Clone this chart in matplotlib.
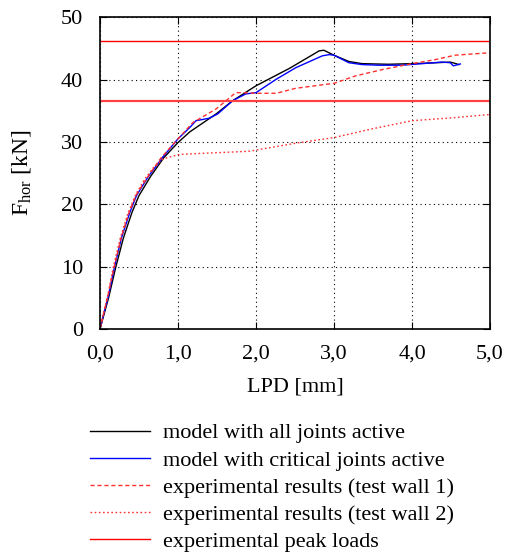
import matplotlib
matplotlib.use("Agg")
import matplotlib.pyplot as plt

plt.rcParams["font.family"] = ["Liberation Serif", "DejaVu Serif"]
plt.rcParams["mathtext.fontset"] = "custom"
plt.rcParams["mathtext.rm"] = "Liberation Serif"
plt.rcParams["mathtext.it"] = "Liberation Serif:italic"

# model with all joints active
x_all = [0.0, 0.11, 0.20, 0.30, 0.41, 0.50, 0.65, 0.82, 1.0, 1.15, 1.49, 1.70,
         2.0, 2.43, 2.81, 2.87, 3.0, 3.19, 3.36, 3.70, 4.13, 4.49, 4.55, 4.60]
y_all = [0.0, 5.0, 9.8, 14.6, 18.7, 21.4, 24.5, 27.5, 29.9, 31.6, 34.5, 36.6,
         39.0, 41.8, 44.6, 44.7, 43.9, 42.9, 42.55, 42.45, 42.6, 42.8, 42.6, 42.4]

# model with critical joints active
x_crit = [0.0, 0.05, 0.106, 0.183, 0.277, 0.383, 0.468, 0.617, 0.80, 0.94, 1.0,
          1.15, 1.23, 1.40, 1.51, 1.70, 1.87, 2.0, 2.26, 2.51, 2.85, 2.94, 3.0,
          3.19, 3.36, 3.57, 3.87, 4.13, 4.38, 4.49, 4.53, 4.62]
y_crit = [0.0, 2.6, 5.2, 9.8, 14.7, 18.7, 21.4, 24.4, 27.5, 29.6, 30.5,
          32.3, 33.4, 33.8, 34.5, 36.6, 37.7, 37.9, 40.05, 41.9, 43.8, 44.0, 43.9,
          42.7, 42.4, 42.3, 42.3, 42.55, 42.8, 42.7, 42.2, 42.5]

# experimental results, test wall 1
x_exp1 = [0.0, 0.05, 0.10, 0.18, 0.27, 0.37, 0.46, 0.60, 0.78, 0.95, 1.19,
          1.49, 1.74, 1.83, 2.0, 2.26, 2.51, 3.0, 3.28, 3.62, 4.0, 4.30, 4.55,
          5.0]
y_exp1 = [0.0, 2.7, 5.3, 9.9, 14.6, 18.6, 21.4, 24.2, 27.4, 29.8, 33.1,
          35.3, 37.9, 37.9, 37.8, 37.8, 38.6, 39.4, 40.6, 41.6, 42.55, 43.2, 43.9,
          44.3]

# experimental results, test wall 2
x_exp2 = [0.0, 0.05, 0.10, 0.17, 0.26, 0.36, 0.46, 0.57, 0.68, 0.81, 1.02,
          1.36, 1.91, 2.51, 3.0, 3.49, 4.0, 4.55, 5.0]
y_exp2 = [0.0, 2.8, 5.4, 9.9, 14.6, 18.6, 21.6, 24.0, 25.8, 27.3, 28.0,
          28.2, 28.5, 29.8, 30.7, 32.1, 33.4, 33.9, 34.4]

# experimental peak loads
peak_loads = [46.2, 36.5]

fig = plt.figure(figsize=(5.06, 5.54), dpi=100)
ax = fig.add_axes([0.1976, 0.406, 0.7708, 0.563])

l1, = ax.plot(x_all, y_all, color="black", lw=1.0)
l2, = ax.plot(x_crit, y_crit, color="blue", lw=1.0)
l3, = ax.plot(x_exp1, y_exp1, color="#ff3030", lw=1.0, ls=(0, (3, 2)))
l4, = ax.plot(x_exp2, y_exp2, color="#ff3030", lw=1.0, ls=(0, (1.2, 1.8)))
l5 = ax.axhline(peak_loads[0], color="red", lw=1.0)
ax.axhline(peak_loads[1], color="#ff4040", lw=1.6)

ax.set_xlim(0, 5)
ax.set_ylim(0, 50)
ax.set_xticks([0, 1, 2, 3, 4, 5])
ax.set_xticklabels(["0,0", "1,0", "2,0", "3,0", "4,0", "5,0"])
ax.set_yticks([0, 10, 20, 30, 40, 50])
ax.tick_params(direction="in", top=True, right=True, labelsize=16, length=5)
ax.tick_params(axis="x", pad=11)
ax.tick_params(axis="y", pad=12)
ax.grid(True, color="black", ls=(0, (1, 3)), lw=0.8)
for s in ax.spines.values():
    s.set_linewidth(1.2)

ax.set_xlabel("LPD [mm]", fontsize=16, labelpad=10)
ax.set_ylabel(r"F$_{\mathrm{hor}}$ [kN]", fontsize=17, labelpad=20)

fig.legend([l1, l2, l3, l4, l5],
           ["model with all joints active",
            "model with critical joints active",
            "experimental results (test wall 1)",
            "experimental results (test wall 2)",
            "experimental peak loads"],
           loc="upper left", bbox_to_anchor=(0.160, 0.253), frameon=False,
           fontsize=16, handlelength=2.7, handletextpad=0.6,
           labelspacing=0.3, borderaxespad=0)

fig.savefig("out.png", dpi=100)
